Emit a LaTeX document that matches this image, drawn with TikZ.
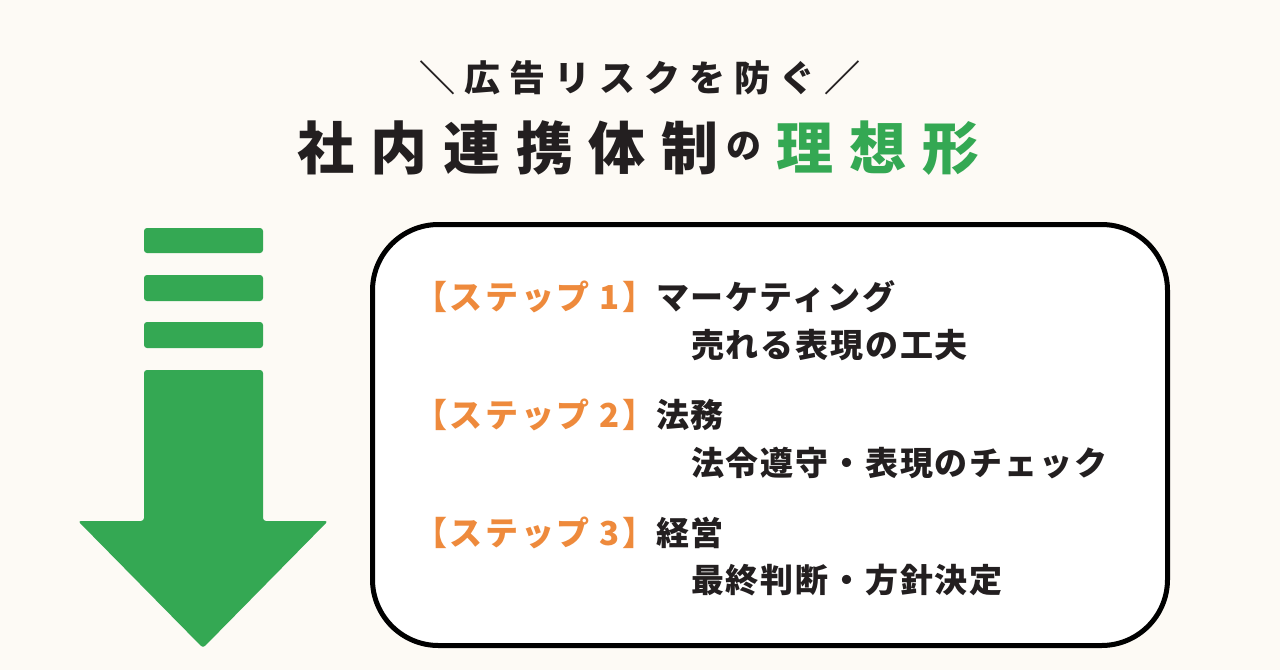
\documentclass[tikz,border=0pt]{standalone}
\usepackage{fontspec}
\setmainfont{Noto Sans CJK JP}
\definecolor{bgc}{HTML}{FDFAF5}
\definecolor{grn}{HTML}{34A853}
\definecolor{org}{HTML}{EE8A3C}
\definecolor{ink}{HTML}{231F20}
\tikzset{
  bar/.style={fill=grn, rounded corners=3pt},
  bigtitle/.style={anchor=west, inner sep=0pt, font=\fontsize{57}{60}\selectfont\bfseries\addfontfeature{LetterSpace=28}},
  steplabel/.style={anchor=west, inner sep=0pt, text=org, font=\fontsize{33}{36}\selectfont\bfseries\addfontfeature{LetterSpace=8}},
  stepname/.style={anchor=west, inner sep=0pt, text=ink, font=\fontsize{33}{36}\selectfont\bfseries\addfontfeature{LetterSpace=5.5}},
  stepdesc/.style={anchor=west, inner sep=0pt, text=ink, font=\fontsize{33}{36}\selectfont\bfseries\addfontfeature{LetterSpace=5.5}}
}
\begin{document}
\begin{tikzpicture}[x=1pt,y=-1pt]
\fill[bgc] (0,0) rectangle (1280,670);
\useasboundingbox (0,0) rectangle (1280,670);
% title
\node[inner sep=0pt, text=ink, font=\fontsize{36}{40}\selectfont\bfseries\addfontfeature{LetterSpace=25}] (t1) at (640,78) {＼広告リスクを防ぐ／};
\node[bigtitle, text=ink] (t2a) at (297,148) {社内連携体制};
\node[anchor=west, inner sep=0pt, text=ink, font=\fontsize{35}{37}\selectfont\bfseries] (t2b) at (726,146) {の};
\node[bigtitle, text=grn] (t2c) at (776,148) {理想形};
% arrow
\fill[bar] (144,228) rectangle (263,253);
\fill[bar] (144,275) rectangle (263,301);
\fill[bar] (144,322) rectangle (263,348);
\fill[grn, rounded corners=3pt] (144,370) -- (263,370) -- (263,521) -- (328,521) -- (203,648) -- (78,521) -- (144,521) -- cycle;
% box
\draw[line width=5pt, fill=white, rounded corners=66pt] (372.5,224.5) rectangle (1167.5,645.5);
% steps
\node[steplabel] (s1) at (414,297) {【ステップ 1】};
\node[stepname] (n1) at (656,297) {マーケティング};
\node[stepdesc] (d1) at (691,345) {売れる表現の工夫};
\node[steplabel] (s2) at (414,415) {【ステップ 2】};
\node[stepname] (n2) at (656,415) {法務};
\node[stepdesc] (d2) at (691,463) {法令遵守・表現のチェック};
\node[steplabel] (s3) at (414,533) {【ステップ 3】};
\node[stepname] (n3) at (656,533) {経営};
\node[stepdesc] (d3) at (691,580) {最終判断・方針決定};
\end{tikzpicture}
\end{document}
